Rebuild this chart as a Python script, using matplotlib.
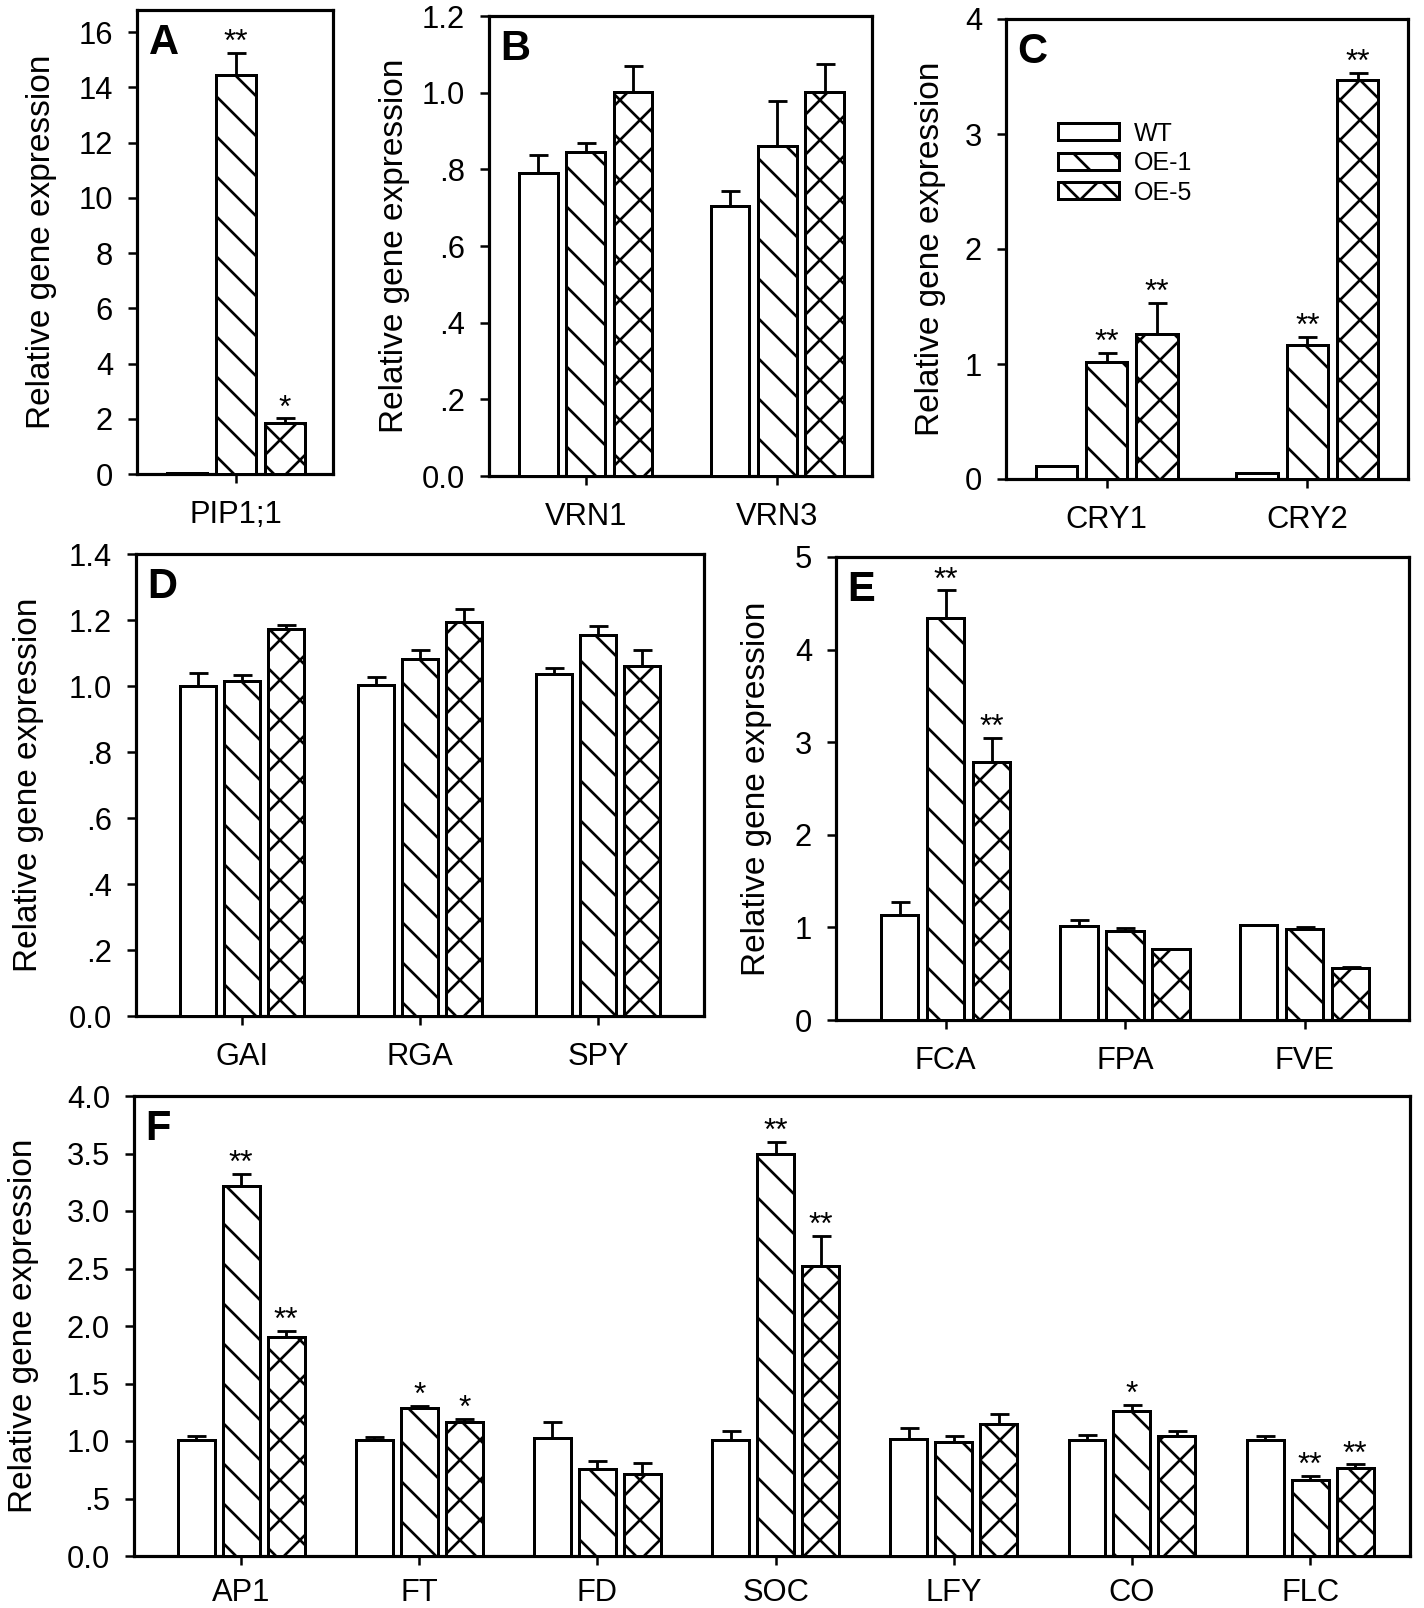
import numpy as np
import matplotlib
matplotlib.use('Agg')
import matplotlib.pyplot as plt

plt.rcParams['font.family'] = ['Liberation Sans', 'DejaVu Sans']
plt.rcParams['hatch.linewidth'] = 1.6

W, H, DPI = 1424, 1608, 120

series = ['WT', 'OE-1', 'OE-5']
hatches = ['', '\\', 'x']

# A
genes_A = ['PIP1;1']
mean_A = [[0.05], [14.45], [1.85]]
err_A = [[0.0], [0.80], [0.16]]
star_A = [[''], ['**'], ['*']]

# B
genes_B = ['VRN1', 'VRN3']
mean_B = [[0.79, 0.704], [0.845, 0.86], [1.003, 1.003]]
err_B = [[0.048, 0.04], [0.024, 0.118], [0.066, 0.073]]
star_B = [['', ''], ['', ''], ['', '']]

# C
genes_C = ['CRY1', 'CRY2']
mean_C = [[0.117, 0.05], [1.014, 1.169], [1.257, 3.473]]
err_C = [[0.0, 0.0], [0.085, 0.068], [0.273, 0.055]]
star_C = [['', ''], ['**', '**'], ['**', '**']]

# D
genes_D = ['GAI', 'RGA', 'SPY']
mean_D = [[1.0, 1.004, 1.035], [1.014, 1.082, 1.155], [1.174, 1.194, 1.061]]
err_D = [[0.038, 0.024, 0.019], [0.02, 0.026, 0.026], [0.012, 0.039, 0.047]]
star_D = [['', '', ''], ['', '', ''], ['', '', '']]

# E
genes_E = ['FCA', 'FPA', 'FVE']
mean_E = [[1.129, 1.01, 1.021], [4.337, 0.965, 0.987], [2.783, 0.768, 0.566]]
err_E = [[0.149, 0.07, 0.007], [0.302, 0.03, 0.019], [0.265, 0.0, 0.008]]
star_E = [['', '', ''], ['**', '', ''], ['**', '', '']]

# F
genes_F = ['AP1', 'FT', 'FD', 'SOC', 'LFY', 'CO', 'FLC']
mean_F = [[1.005, 1.005, 1.026, 1.008, 1.017, 1.008, 1.008],
          [3.219, 1.283, 0.753, 3.492, 0.995, 1.265, 0.657],
          [1.903, 1.168, 0.717, 2.526, 1.144, 1.041, 0.766]]
err_F = [[0.039, 0.03, 0.139, 0.081, 0.093, 0.045, 0.036],
         [0.106, 0.024, 0.07, 0.106, 0.049, 0.051, 0.036],
         [0.055, 0.027, 0.094, 0.258, 0.09, 0.045, 0.03]]
star_F = [['', '', '', '', '', '', ''],
          ['**', '*', '', '**', '', '*', '**'],
          ['**', '*', '', '**', '', '', '**']]

yt_A = [0, 2, 4, 6, 8, 10, 12, 14, 16]
ytl_A = ['0', '2', '4', '6', '8', '10', '12', '14', '16']
yt_B = [0, 0.2, 0.4, 0.6, 0.8, 1.0, 1.2]
ytl_B = ['0.0', '.2', '.4', '.6', '.8', '1.0', '1.2']
yt_C = [0, 1, 2, 3, 4]
ytl_C = ['0', '1', '2', '3', '4']
yt_D = [0, 0.2, 0.4, 0.6, 0.8, 1.0, 1.2, 1.4]
ytl_D = ['0.0', '.2', '.4', '.6', '.8', '1.0', '1.2', '1.4']
yt_E = [0, 1, 2, 3, 4, 5]
ytl_E = ['0', '1', '2', '3', '4', '5']
yt_F = [0, 0.5, 1.0, 1.5, 2.0, 2.5, 3.0, 3.5, 4.0]
ytl_F = ['0.0', '.5', '1.0', '1.5', '2.0', '2.5', '3.0', '3.5', '4.0']

fig = plt.figure(figsize=(W / DPI, H / DPI), dpi=DPI)


def panel(box, genes, means, errs, stars, ymax, yt, ytl, letter, g, ml, mr, lab_x, xpad=10):
    l, t, r, b = box
    ax = fig.add_axes([l / W, 1 - b / H, (r - l) / W, (b - t) / H])
    n = len(genes)
    centers = np.arange(n) * g
    for i in range(3):
        x = centers + (i - 1)
        ax.bar(x, means[i], width=0.82, facecolor='white', edgecolor='black',
               hatch=hatches[i], linewidth=1.8, label=series[i], zorder=3)
        e = np.array(errs[i])
        ok = e > 0
        if ok.any():
            ax.errorbar(x[ok], np.array(means[i])[ok],
                        yerr=[np.zeros(ok.sum()), e[ok]], fmt='none',
                        ecolor='black', elinewidth=1.7, capsize=5.7,
                        capthick=1.7, zorder=2)
        for j in range(n):
            if stars[i][j]:
                ax.annotate(stars[i][j], xy=(x[j], means[i][j] + errs[i][j]),
                            xytext=(0, -3), textcoords='offset points',
                            ha='center', va='bottom', fontsize=19)
    ax.set_xlim(-ml, (n - 1) * g + mr)
    ax.set_ylim(0, ymax)
    ax.set_xticks(centers)
    ax.set_xticklabels(genes, fontsize=18.5)
    ax.set_yticks(yt)
    ax.set_yticklabels(ytl, fontsize=18.5)
    ax.tick_params(direction='out', length=5.4, width=1.5)
    ax.tick_params(axis='y', pad=9)
    ax.tick_params(axis='x', pad=xpad)
    for s in ax.spines.values():
        s.set_linewidth(1.9)
    ax.set_ylabel('Relative gene expression', fontsize=20)
    ax.yaxis.set_label_coords((lab_x - l) / (r - l), 0.5)
    ax.annotate(letter, xy=(0, 1), xycoords='axes fraction', xytext=(7, -8),
                textcoords='offset points', ha='left', va='top',
                fontsize=25, fontweight='bold')
    return ax


panel((137, 10, 333, 474), genes_A, mean_A, err_A, star_A, 16.8, yt_A, ytl_A, 'A', 4, 2.02, 1.98, 57)
panel((489, 16, 872, 476), genes_B, mean_B, err_B, star_B, 1.2, yt_B, ytl_B, 'B', 4.05, 2.04, 2.0, 410)
axc = panel((1006, 19, 1408, 479), genes_C, mean_C, err_C, star_C, 4, yt_C, ytl_C, 'C', 3.98, 2.0, 2.0, 946)
panel((136, 554, 704, 1016), genes_D, mean_D, err_D, star_D, 1.4, yt_D, ytl_D, 'D', 4.08, 2.43, 2.43, 44)
panel((836, 557, 1409, 1020), genes_E, mean_E, err_E, star_E, 5, yt_E, ytl_E, 'E', 3.9, 2.38, 2.27, 772)
panel((134, 1096, 1410, 1556), genes_F, mean_F, err_F, star_F, 4, yt_F, ytl_F, 'F', 3.96, 2.38, 2.22, 39, xpad=8)

axc.legend(loc='upper left', bbox_to_anchor=(0.129, 0.777), frameon=False,
           fontsize=15, handlelength=2.45, handleheight=0.66, labelspacing=0.22,
           handletextpad=0.6, borderpad=0, borderaxespad=0)

fig.savefig('out.png', dpi=DPI)
